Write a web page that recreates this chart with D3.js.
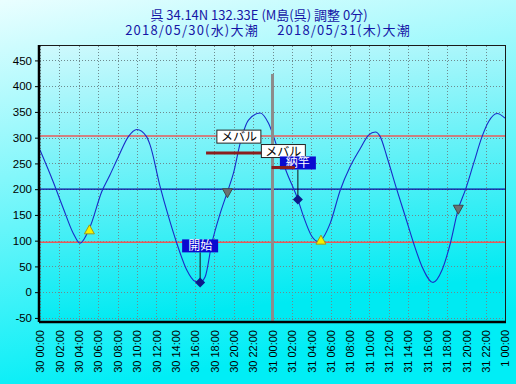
<!DOCTYPE html>
<html>
<head>
<meta charset="utf-8">
<script src="https://cdn.jsdelivr.net/npm/d3@7"></script>
<style>
  body { margin: 0; padding: 0; overflow: hidden; }
  svg { display: block; }
</style>
</head>
<body>
<div id="chart"></div>
<script>
// tide data (hours since 30 00:00, level in cm)
const tideHours = [0, 1.37, 2.4, 3.44, 4.13, 5.17, 6.37, 7.23, 8.09, 9.12, 10.0, 11.0, 11.36, 12.4,
  13.26, 14.12, 15.15, 16.0, 16.5, 17.05, 17.74, 18.6, 19.35, 19.97, 20.66, 21.52, 22.73, 23.59,
  24.48, 25.5, 26.62, 27.2, 28.07, 28.75, 29.96, 30.99, 32.02, 33.06, 33.92, 34.61, 35.12, 35.81,
  36.85, 37.71, 38.57, 39.43, 40.57, 41.5, 42.36, 43.2, 43.9, 44.76, 45.63, 46.3, 47.18, 48];
const tideLevels = [276, 214, 163, 114, 95, 127, 195, 228, 263, 302, 316, 302, 286, 205,
  147, 95, 43, 21, 19, 30, 95, 153, 195, 231, 289, 334, 348, 328,
  282, 231, 180, 147, 108, 98, 134, 198, 244, 279, 305, 311, 302, 263,
  198, 147, 95, 50, 19, 43, 95, 163, 198, 250, 302, 331, 347, 338];

const titleLines = ["呉 34.14N 132.33E (M島(呉) 調整 0分)", "2018/05/30(水)大潮　 2018/05/31(木)大潮"];

const yTicks = [-50, 0, 50, 100, 150, 200, 250, 300, 350, 400, 450];
const xTickHours = [0, 2, 4, 6, 8, 10, 12, 14, 16, 18, 20, 22, 24, 26, 28, 30, 32, 34, 36, 38, 40, 42, 44, 46, 48];
const xTickLabels = ["30 00:00", "30 02:00", "30 04:00", "30 06:00", "30 08:00", "30 10:00", "30 12:00",
  "30 14:00", "30 16:00", "30 18:00", "30 20:00", "30 22:00", "31 00:00", "31 02:00", "31 04:00",
  "31 06:00", "31 08:00", "31 10:00", "31 12:00", "31 14:00", "31 16:00", "31 18:00", "31 20:00",
  "31 22:00", "1 00:00"];

// reference lines
const redLevels = [303, 97];
const blueLevels = [200];
const dayBreakHours = [24];

// sunrise / sunset marks
const sunKinds = ["rise", "set", "rise", "set"];
const sunHours = [5.1, 19.35, 29.0, 43.18];
const sunLevels = [121, 193, 101, 161];

// fishing start / stop
const eventLabels = ["開始", "納竿"];
const eventHours = [16.53, 26.62];
const eventLevels = [19, 180];

// catches
const fishNames = ["メバル", "メバル"];
const fishStart = [17.14, 23.92];
const fishEnd = [23.92, 26.32];
const fishLevel = [270, 242];

const W = 516, H = 384;
const plot = {left: 40, right: 505, top: 46, bottom: 321};

const svg = d3.select("#chart").append("svg")
  .attr("width", W)
  .attr("height", H);

const defs = svg.append("defs");
const bg = defs.append("linearGradient")
  .attr("id", "bg")
  .attr("x1", 0).attr("y1", 0).attr("x2", 0.25).attr("y2", 1);
bg.append("stop").attr("offset", "0%").attr("stop-color", "#eafeff");
bg.append("stop").attr("offset", "100%").attr("stop-color", "#00eef6");

const pg = defs.append("linearGradient")
  .attr("id", "pg")
  .attr("x1", 0).attr("y1", 0).attr("x2", 0.2).attr("y2", 1);
pg.append("stop").attr("offset", "0%").attr("stop-color", "#cff9fd");
pg.append("stop").attr("offset", "100%").attr("stop-color", "#00eaf2");

svg.append("rect")
  .attr("width", W).attr("height", H)
  .attr("fill", "url(#bg)");

const x = d3.scaleLinear().domain([0, 48]).range([plot.left, plot.right]);
const y = d3.scaleLinear().domain([-56, 478]).range([plot.bottom, plot.top]);

svg.append("rect")
  .attr("x", plot.left).attr("y", plot.top)
  .attr("width", plot.right - plot.left)
  .attr("height", plot.bottom - plot.top)
  .attr("fill", "url(#pg)");

// title (2nd line is set a little wider, like the original)
svg.selectAll("text.title")
  .data(titleLines)
  .join("text")
  .attr("class", "title")
  .attr("x", (d, i) => i === 0 ? 259 : 268)
  .attr("y", (d, i) => 19.5 + i * 15.5)
  .attr("text-anchor", "middle")
  .style("font-family", "'Noto Sans CJK JP', sans-serif")
  .style("font-size", "13px")
  .style("letter-spacing", (d, i) => i === 0 ? "0px" : "1.2px")
  .style("fill", "#1616a6")
  .text(d => d);

// grid
const grid = svg.append("g");
grid.selectAll("line.h")
  .data(yTicks)
  .join("line")
  .attr("class", "h")
  .attr("x1", plot.left).attr("x2", plot.right)
  .attr("y1", d => Math.round(y(d)) + 0.5).attr("y2", d => Math.round(y(d)) + 0.5)
  .attr("stroke", "#6e8a8e")
  .attr("stroke-dasharray", "1,2");
grid.selectAll("line.v")
  .data(xTickHours)
  .join("line")
  .attr("class", "v")
  .attr("x1", d => Math.round(x(d)) + 0.5).attr("x2", d => Math.round(x(d)) + 0.5)
  .attr("y1", plot.top).attr("y2", plot.bottom)
  .attr("stroke", "#6e8a8e")
  .attr("stroke-dasharray", "1,2");

// reference lines
svg.selectAll("line.red")
  .data(redLevels)
  .join("line")
  .attr("class", "red")
  .attr("x1", plot.left).attr("x2", plot.right)
  .attr("y1", d => y(d)).attr("y2", d => y(d))
  .attr("stroke", "#e85a5a")
  .attr("stroke-width", 1.5);
svg.selectAll("line.blue")
  .data(blueLevels)
  .join("line")
  .attr("class", "blue")
  .attr("x1", plot.left).attr("x2", plot.right)
  .attr("y1", d => y(d)).attr("y2", d => y(d))
  .attr("stroke", "#0a0a9a")
  .attr("stroke-width", 1.2);

// tide curve
const tide = tideHours.map((h, i) => ({h: h, v: tideLevels[i]}));
const line = d3.line()
  .x(d => x(d.h))
  .y(d => y(d.v))
  .curve(d3.curveMonotoneX);
svg.append("path")
  .datum(tide)
  .attr("d", line)
  .attr("fill", "none")
  .attr("stroke", "#1a2cc8")
  .attr("stroke-width", 1.1);

// day break line
svg.selectAll("line.day")
  .data(dayBreakHours)
  .join("line")
  .attr("class", "day")
  .attr("x1", d => x(d)).attr("x2", d => x(d))
  .attr("y1", plot.top + 28).attr("y2", plot.bottom)
  .attr("stroke", "#8c8c8c")
  .attr("stroke-width", 3);

// catch bars + labels
const fish = fishNames.map((n, i) => ({name: n, s: fishStart[i], e: fishEnd[i], v: fishLevel[i]}));
const fg = svg.selectAll("g.fish")
  .data(fish)
  .join("g")
  .attr("class", "fish");
fg.append("line")
  .attr("x1", d => x(d.s)).attr("x2", d => x(d.e))
  .attr("y1", d => y(d.v)).attr("y2", d => y(d.v))
  .attr("stroke", "#8a1e1e")
  .attr("stroke-width", 3);
fg.append("rect")
  .attr("x", d => (x(d.s) + x(d.e)) / 2 - 22)
  .attr("y", d => y(d.v) - 23)
  .attr("width", 44).attr("height", 13)
  .attr("fill", "white")
  .attr("stroke", "#222")
  .attr("stroke-width", 1);
fg.append("text")
  .attr("x", d => (x(d.s) + x(d.e)) / 2)
  .attr("y", d => y(d.v) - 12)
  .attr("text-anchor", "middle")
  .style("font-family", "'Noto Sans CJK JP', sans-serif")
  .style("font-size", "12px")
  .style("fill", "#000")
  .text(d => d.name);

// sun marks
const sun = sunKinds.map((k, i) => ({k: k, h: sunHours[i], v: sunLevels[i]}));
svg.selectAll("path.sun")
  .data(sun)
  .join("path")
  .attr("class", "sun")
  .attr("transform", d => `translate(${x(d.h)},${y(d.v)})`)
  .attr("d", d => d.k === "rise" ? "M0,-5 L5,4 L-5,4 Z" : "M0,5 L5,-4 L-5,-4 Z")
  .attr("fill", d => d.k === "rise" ? "#f4f000" : "#6a7272")
  .attr("stroke", d => d.k === "rise" ? "#9a9a20" : "#404848")
  .attr("stroke-width", 1);

// start / stop marks
const ev = eventLabels.map((l, i) => ({label: l, h: eventHours[i], v: eventLevels[i]}));
const eg = svg.selectAll("g.ev")
  .data(ev)
  .join("g")
  .attr("class", "ev");
eg.append("line")
  .attr("x1", d => x(d.h)).attr("x2", d => x(d.h))
  .attr("y1", d => y(d.v) - 30).attr("y2", d => y(d.v))
  .attr("stroke", "#111")
  .attr("stroke-width", 1);
eg.append("rect")
  .attr("x", d => x(d.h) - 18)
  .attr("y", d => y(d.v) - 43)
  .attr("width", 36).attr("height", 13)
  .attr("fill", "#0a0ad0");
eg.append("text")
  .attr("x", d => x(d.h))
  .attr("y", d => y(d.v) - 32)
  .attr("text-anchor", "middle")
  .style("font-family", "'Noto Sans CJK JP', sans-serif")
  .style("font-size", "12px")
  .style("fill", "#fff")
  .text(d => d.label);
eg.append("path")
  .attr("transform", d => `translate(${x(d.h)},${y(d.v)})`)
  .attr("d", "M0,-5 L5,0 L0,5 L-5,0 Z")
  .attr("fill", "#0c1a8a");

// redraw the catch line that sits on top of the stop label
svg.append("line")
  .datum(fish[1])
  .attr("x1", d => x(d.s)).attr("x2", d => x(d.e))
  .attr("y1", d => y(d.v)).attr("y2", d => y(d.v))
  .attr("stroke", "#8a1e1e")
  .attr("stroke-width", 3);

// axes
const yAxis = d3.axisLeft(y)
  .tickValues(yTicks)
  .tickSize(4)
  .tickSizeOuter(0)
  .tickFormat(d => String(d));
svg.append("g")
  .attr("transform", `translate(${plot.left - 1},0)`)
  .call(yAxis)
  .call(g => g.select(".domain").remove())
  .call(g => g.selectAll("text")
    .style("font-family", "'Liberation Sans', Arial, sans-serif")
    .style("font-size", "11.5px")
    .style("fill", "#000"));

const xAxis = d3.axisBottom(x)
  .tickValues(xTickHours)
  .tickSize(0)
  .tickFormat((d, i) => xTickLabels[i]);
svg.append("g")
  .attr("transform", `translate(0,${plot.bottom})`)
  .call(xAxis)
  .call(g => g.select(".domain").remove())
  .call(g => g.selectAll("text")
    .attr("transform", "rotate(-90)")
    .attr("x", -9)
    .attr("y", 0)
    .attr("dy", "0.35em")
    .attr("text-anchor", "end")
    .style("font-family", "'Liberation Sans', Arial, sans-serif")
    .style("font-size", "11px")
    .style("fill", "#000"));

// frame
svg.append("rect")
  .attr("x", plot.left - 0.5).attr("y", plot.top - 0.5)
  .attr("width", plot.right - plot.left + 1)
  .attr("height", plot.bottom - plot.top + 1)
  .attr("fill", "none")
  .attr("stroke", "#1a1a1a")
  .attr("stroke-width", 1);
svg.append("line")
  .attr("x1", plot.left - 1).attr("x2", plot.left - 1)
  .attr("y1", plot.top - 1).attr("y2", plot.bottom + 1)
  .attr("stroke", "#000").attr("stroke-width", 2.5);
svg.append("line")
  .attr("x1", plot.left - 1).attr("x2", plot.right + 1)
  .attr("y1", plot.bottom + 1).attr("y2", plot.bottom + 1)
  .attr("stroke", "#000").attr("stroke-width", 2.5);
</script>
</body>
</html>
